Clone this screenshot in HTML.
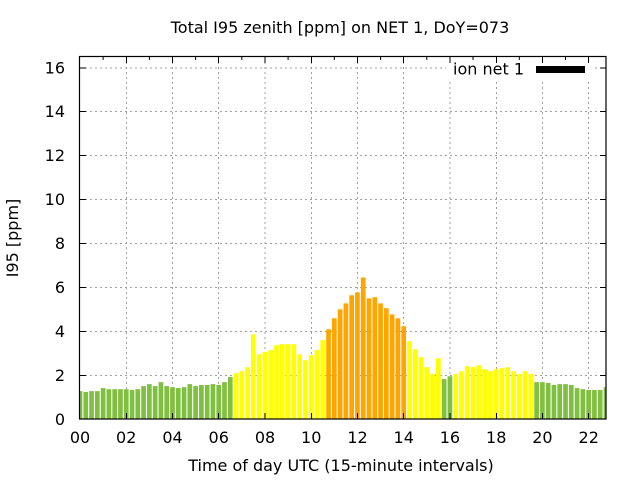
<!DOCTYPE html>
<html>
<head>
<meta charset="utf-8">
<style>
  html, body { margin: 0; padding: 0; background: #fff; }
  svg { display: block; }
  text { font-family: "DejaVu Sans", "Liberation Sans", sans-serif; font-size: 16px; fill: #000; }
</style>
</head>
<body>
<svg width="640" height="480" viewBox="0 0 640 480" xmlns="http://www.w3.org/2000/svg">
  <defs>
    <clipPath id="plot"><rect x="80" y="57" width="526" height="362"/></clipPath>
  </defs>
  <rect x="0" y="0" width="640" height="480" fill="#fff"/>

  <g stroke="#a0a0a0" stroke-width="1" stroke-dasharray="2,3" fill="none">
    <line x1="126.5" y1="57" x2="126.5" y2="419"/>
    <line x1="172.5" y1="57" x2="172.5" y2="419"/>
    <line x1="218.5" y1="57" x2="218.5" y2="419"/>
    <line x1="265" y1="57" x2="265" y2="419"/>
    <line x1="311.5" y1="57" x2="311.5" y2="419"/>
    <line x1="357.5" y1="57" x2="357.5" y2="419"/>
    <line x1="403.5" y1="57" x2="403.5" y2="419"/>
    <line x1="450" y1="57" x2="450" y2="419"/>
    <line x1="496.5" y1="57" x2="496.5" y2="419"/>
    <line x1="542.5" y1="57" x2="542.5" y2="419"/>
    <line x1="588.5" y1="57" x2="588.5" y2="419"/>
    <line x1="80" y1="375.5" x2="606" y2="375.5"/>
    <line x1="80" y1="331.5" x2="606" y2="331.5"/>
    <line x1="80" y1="287.5" x2="606" y2="287.5"/>
    <line x1="80" y1="243.5" x2="606" y2="243.5"/>
    <line x1="80" y1="199.5" x2="606" y2="199.5"/>
    <line x1="80" y1="155.5" x2="606" y2="155.5"/>
    <line x1="80" y1="111.5" x2="606" y2="111.5"/>
    <line x1="80" y1="68" x2="606" y2="68"/>
  </g>

  <rect x="446" y="58" width="147" height="21" fill="#fff"/>

  <g clip-path="url(#plot)">
    <g transform="translate(0,419) scale(1,-21.94)">
      <g fill="#80c040">
        <rect x="77.65" y="0" width="4.7" height="1.27"/>
        <rect x="83.43" y="0" width="4.7" height="1.23"/>
        <rect x="89.21" y="0" width="4.7" height="1.27"/>
        <rect x="94.99" y="0" width="4.7" height="1.27"/>
        <rect x="100.77" y="0" width="4.7" height="1.41"/>
        <rect x="106.55" y="0" width="4.7" height="1.36"/>
        <rect x="112.33" y="0" width="4.7" height="1.36"/>
        <rect x="118.11" y="0" width="4.7" height="1.36"/>
        <rect x="123.89" y="0" width="4.7" height="1.36"/>
        <rect x="129.67" y="0" width="4.7" height="1.32"/>
        <rect x="135.45" y="0" width="4.7" height="1.36"/>
        <rect x="141.23" y="0" width="4.7" height="1.50"/>
        <rect x="147.01" y="0" width="4.7" height="1.59"/>
        <rect x="152.79" y="0" width="4.7" height="1.50"/>
        <rect x="158.57" y="0" width="4.7" height="1.68"/>
        <rect x="164.35" y="0" width="4.7" height="1.50"/>
        <rect x="170.13" y="0" width="4.7" height="1.45"/>
        <rect x="175.91" y="0" width="4.7" height="1.41"/>
        <rect x="181.69" y="0" width="4.7" height="1.45"/>
        <rect x="187.47" y="0" width="4.7" height="1.59"/>
        <rect x="193.25" y="0" width="4.7" height="1.50"/>
        <rect x="199.03" y="0" width="4.7" height="1.55"/>
        <rect x="204.81" y="0" width="4.7" height="1.55"/>
        <rect x="210.59" y="0" width="4.7" height="1.59"/>
        <rect x="216.37" y="0" width="4.7" height="1.55"/>
        <rect x="222.15" y="0" width="4.7" height="1.68"/>
        <rect x="227.93" y="0" width="4.7" height="1.91"/>
        <rect x="441.79" y="0" width="4.7" height="1.82"/>
        <rect x="447.57" y="0" width="4.7" height="1.95"/>
        <rect x="534.27" y="0" width="4.7" height="1.68"/>
        <rect x="540.05" y="0" width="4.7" height="1.68"/>
        <rect x="545.83" y="0" width="4.7" height="1.64"/>
        <rect x="551.61" y="0" width="4.7" height="1.55"/>
        <rect x="557.39" y="0" width="4.7" height="1.59"/>
        <rect x="563.17" y="0" width="4.7" height="1.59"/>
        <rect x="568.95" y="0" width="4.7" height="1.55"/>
        <rect x="574.73" y="0" width="4.7" height="1.41"/>
        <rect x="580.51" y="0" width="4.7" height="1.36"/>
        <rect x="586.29" y="0" width="4.7" height="1.32"/>
        <rect x="592.07" y="0" width="4.7" height="1.32"/>
        <rect x="597.85" y="0" width="4.7" height="1.32"/>
        <rect x="603.63" y="0" width="4.7" height="1.45"/>
      </g>
      <g fill="#ffff00">
        <rect x="233.71" y="0" width="4.7" height="2.09"/>
        <rect x="239.49" y="0" width="4.7" height="2.18"/>
        <rect x="245.27" y="0" width="4.7" height="2.36"/>
        <rect x="251.05" y="0" width="4.7" height="3.86"/>
        <rect x="256.83" y="0" width="4.7" height="2.95"/>
        <rect x="262.61" y="0" width="4.7" height="3.05"/>
        <rect x="268.39" y="0" width="4.7" height="3.14"/>
        <rect x="274.17" y="0" width="4.7" height="3.36"/>
        <rect x="279.95" y="0" width="4.7" height="3.41"/>
        <rect x="285.73" y="0" width="4.7" height="3.41"/>
        <rect x="291.51" y="0" width="4.7" height="3.41"/>
        <rect x="297.29" y="0" width="4.7" height="2.95"/>
        <rect x="303.07" y="0" width="4.7" height="2.68"/>
        <rect x="308.85" y="0" width="4.7" height="2.91"/>
        <rect x="314.63" y="0" width="4.7" height="3.14"/>
        <rect x="320.41" y="0" width="4.7" height="3.59"/>
        <rect x="407.11" y="0" width="4.7" height="3.55"/>
        <rect x="412.89" y="0" width="4.7" height="3.18"/>
        <rect x="418.67" y="0" width="4.7" height="2.82"/>
        <rect x="424.45" y="0" width="4.7" height="2.36"/>
        <rect x="430.23" y="0" width="4.7" height="2.05"/>
        <rect x="436.01" y="0" width="4.7" height="2.77"/>
        <rect x="453.35" y="0" width="4.7" height="2.05"/>
        <rect x="459.13" y="0" width="4.7" height="2.18"/>
        <rect x="464.91" y="0" width="4.7" height="2.41"/>
        <rect x="470.69" y="0" width="4.7" height="2.36"/>
        <rect x="476.47" y="0" width="4.7" height="2.45"/>
        <rect x="482.25" y="0" width="4.7" height="2.27"/>
        <rect x="488.03" y="0" width="4.7" height="2.18"/>
        <rect x="493.81" y="0" width="4.7" height="2.27"/>
        <rect x="499.59" y="0" width="4.7" height="2.32"/>
        <rect x="505.37" y="0" width="4.7" height="2.36"/>
        <rect x="511.15" y="0" width="4.7" height="2.18"/>
        <rect x="516.93" y="0" width="4.7" height="2.05"/>
        <rect x="522.71" y="0" width="4.7" height="2.18"/>
        <rect x="528.49" y="0" width="4.7" height="2.05"/>
      </g>
      <g fill="#ffa500">
        <rect x="326.19" y="0" width="4.7" height="4.09"/>
        <rect x="331.97" y="0" width="4.7" height="4.59"/>
        <rect x="337.75" y="0" width="4.7" height="5.00"/>
        <rect x="343.53" y="0" width="4.7" height="5.27"/>
        <rect x="349.31" y="0" width="4.7" height="5.64"/>
        <rect x="355.09" y="0" width="4.7" height="5.77"/>
        <rect x="360.87" y="0" width="4.7" height="6.45"/>
        <rect x="366.65" y="0" width="4.7" height="5.50"/>
        <rect x="372.43" y="0" width="4.7" height="5.55"/>
        <rect x="378.21" y="0" width="4.7" height="5.27"/>
        <rect x="383.99" y="0" width="4.7" height="5.05"/>
        <rect x="389.77" y="0" width="4.7" height="4.77"/>
        <rect x="395.55" y="0" width="4.7" height="4.59"/>
        <rect x="401.33" y="0" width="4.7" height="4.23"/>
      </g>
    </g>
  </g>

  <g stroke="#000" stroke-width="1">
    <path d="M126.5 57v6M172.5 57v6M218.5 57v6M265 57v6M311.5 57v6M357.5 57v6M403.5 57v6M450 57v6M496.5 57v6M542.5 57v6M588.5 57v6"/>
    <path d="M103.1 57v3M149.4 57v3M195.6 57v3M241.8 57v3M288.1 57v3M334.3 57v3M380.6 57v3M426.8 57v3M473 57v3M519.3 57v3M565.5 57v3"/>
    <path d="M126.5 419v-6M172.5 419v-6M218.5 419v-6M265 419v-6M311.5 419v-6M357.5 419v-6M403.5 419v-6M450 419v-6M496.5 419v-6M542.5 419v-6M588.5 419v-6"/>
    <path d="M80 375.5h6M80 331.5h6M80 287.5h6M80 243.5h6M80 199.5h6M80 155.5h6M80 111.5h6M80 68h6"/>
    <path d="M606 375.5h-6M606 331.5h-6M606 287.5h-6M606 243.5h-6M606 199.5h-6M606 155.5h-6M606 111.5h-6M606 68h-6"/>
  </g>

  <rect x="79.5" y="56.5" width="526.5" height="362.5" fill="none" stroke="#000" stroke-width="1.2"/>

  <text x="524" y="74.5" text-anchor="end">ion net 1</text>
  <rect x="536" y="66" width="49" height="7" fill="#000"/>

  <g text-anchor="end">
    <text x="65" y="425">0</text>
    <text x="65" y="381">2</text>
    <text x="65" y="337">4</text>
    <text x="65" y="293">6</text>
    <text x="65" y="249">8</text>
    <text x="65" y="205">10</text>
    <text x="65" y="161">12</text>
    <text x="65" y="117">14</text>
    <text x="65" y="73.5">16</text>
  </g>

  <g text-anchor="middle">
    <text x="80" y="443">00</text>
    <text x="126.2" y="443">02</text>
    <text x="172.5" y="443">04</text>
    <text x="218.7" y="443">06</text>
    <text x="265" y="443">08</text>
    <text x="311.2" y="443">10</text>
    <text x="357.5" y="443">12</text>
    <text x="403.7" y="443">14</text>
    <text x="449.9" y="443">16</text>
    <text x="496.2" y="443">18</text>
    <text x="542.4" y="443">20</text>
    <text x="588.7" y="443">22</text>
  </g>

  <text x="341" y="471" text-anchor="middle">Time of day UTC (15-minute intervals)</text>
  <text x="0" y="0" text-anchor="middle" transform="translate(18,238) rotate(-90)">I95 [ppm]</text>
  <text x="340" y="33" text-anchor="middle">Total I95 zenith [ppm] on NET 1, DoY=073</text>
</svg>
</body>
</html>
